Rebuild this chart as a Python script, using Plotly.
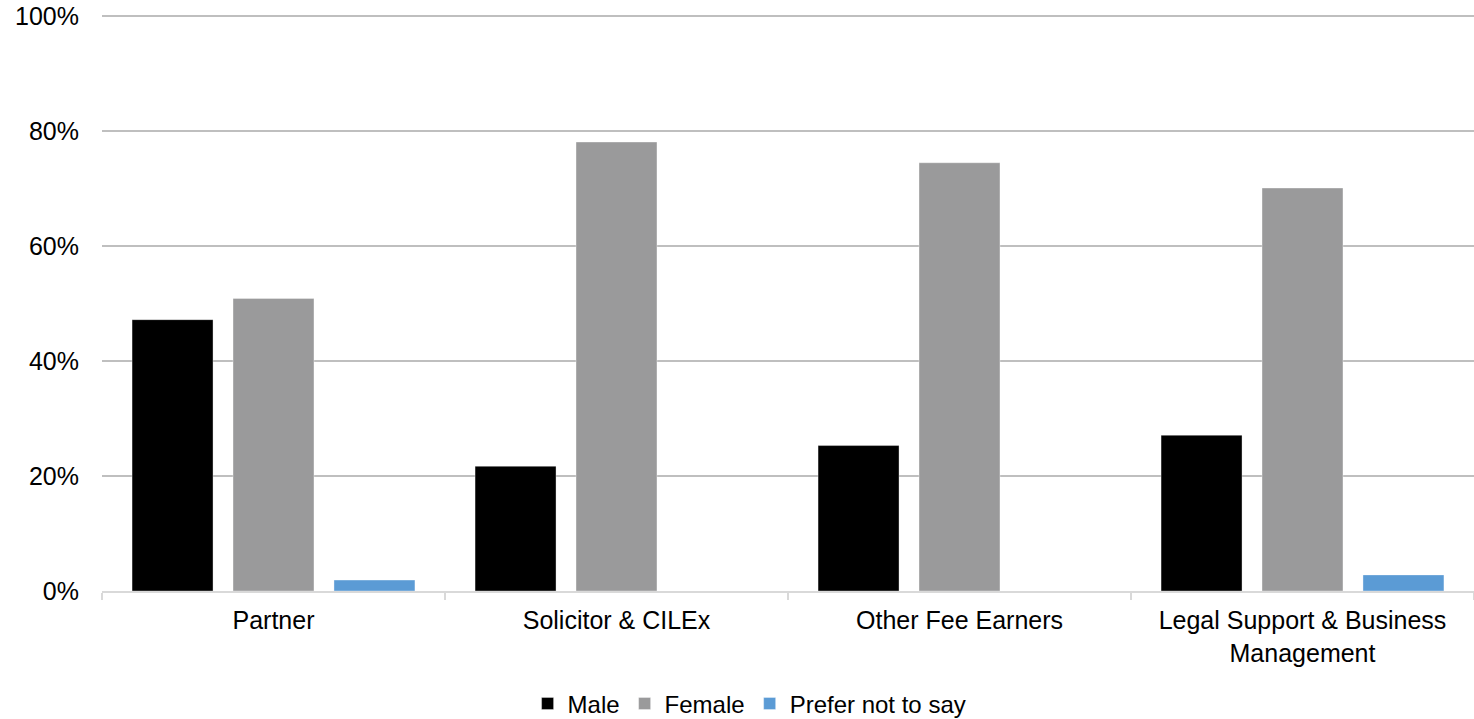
import plotly.graph_objects as go

categories = ["Partner", "Solicitor & CILEx", "Other Fee Earners", "Legal Support & Business<br>Management"]
male = [47.2, 21.7, 25.3, 27.1]
female = [50.9, 78.1, 74.5, 70.1]
prefer_not = [1.9, 0, 0, 2.8]

FONT = "Liberation Sans, Arial, Helvetica, sans-serif"

fig = go.Figure()
for name, vals, color in [("Male", male, "#000000"), ("Female", female, "#9a9a9b"), ("Prefer not to say", prefer_not, "#5b9bd5")]:
    fig.add_trace(go.Bar(x=categories, y=vals, name=name,
                         marker=dict(color=color, line=dict(color="rgba(255,255,255,0.35)", width=1))))

fig.update_layout(
    width=1474, height=719,
    margin=dict(l=102, r=0, t=15, b=128, autoexpand=False),
    paper_bgcolor="white", plot_bgcolor="white",
    barmode="group", bargap=0.117, bargroupgap=0.198,
    font=dict(family=FONT, size=25, color="#000000"),
    legend=dict(orientation="h", x=0.472, xanchor="center", y=-0.196, yanchor="middle",
                font=dict(size=24), itemwidth=30, traceorder="normal"),
    showlegend=True,
)
fig.update_yaxes(range=[0, 100.2], tickvals=[0, 20, 40, 60, 80, 100],
                 ticktext=["0%", "20%", "40%", "60%", "80%", "100%"],
                 showgrid=True, gridcolor="#bfbfbf", gridwidth=1.5, automargin=False,
                 ticklabeloverflow="allow",
                 zeroline=False, showline=False, ticks="", ticklabelstandoff=22)
fig.update_xaxes(showline=True, linecolor="#d9d9d9", linewidth=2, automargin=False,
                 ticklabeloverflow="allow",
                 ticks="outside", tickson="boundaries", ticklen=7, tickcolor="#d9d9d9", tickwidth=2,
                 showgrid=False, ticklabelstandoff=6)

fig.write_html("out.html", config={"displayModeBar": False},
               post_script="document.body.style.margin='0px';")
